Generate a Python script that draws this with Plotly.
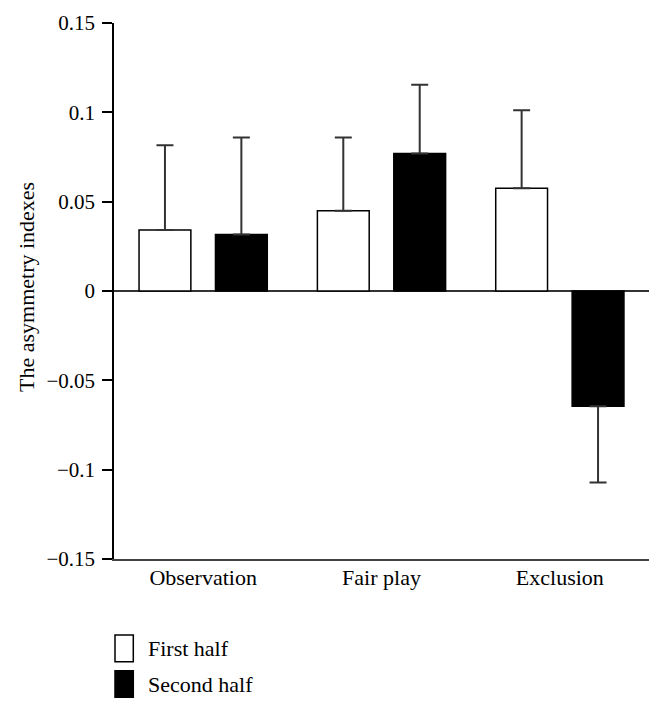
import plotly.graph_objects as go

categories = ["Observation", "Fair play", "Exclusion"]
first_half = [0.0341, 0.0449, 0.0575]
first_half_err = [0.0475, 0.0410, 0.0437]
second_half = [0.0316, 0.0769, -0.0645]
second_half_err = [0.0543, 0.0385, 0.0427]
series_names = ["First half", "Second half"]
y_tickvals = [0.15, 0.1, 0.05, 0, -0.05, -0.1, -0.15]
y_ticktext = ["0.15", "0.1", "0.05", "0", "\u22120.05", "\u22120.1", "\u22120.15"]
y_title = "The asymmetry indexes"

FONT = "Liberation Serif, Times New Roman, serif"
OFF = 8  # browser body margin
W, H = 662 - OFF, 711 - OFF
# plot area in window pixels: x 114.3..648.7, y 23.3..558.7
L, R, T, B = 106, 13, 15, 152
PW, PH = W - L - R, H - T - B


def px_x(px):
    return (px - OFF - L) / PW


def px_y(py):
    return (H - B - (py - OFF)) / PH


def err_parts(vals, errs):
    plus = [e if v >= 0 else 0 for v, e in zip(vals, errs)]
    minus = [0 if v >= 0 else e for v, e in zip(vals, errs)]
    return plus, minus


fig = go.Figure()
colors = ["white", "black"]
for name, vals, errs, col in zip(series_names, [first_half, second_half],
                                 [first_half_err, second_half_err], colors):
    plus, minus = err_parts(vals, errs)
    fig.add_trace(go.Bar(
        x=categories, y=vals, name=name,
        marker=dict(color=col, line=dict(color="black", width=1.5)),
        error_y=dict(type="data", array=plus, arrayminus=minus, symmetric=False,
                     color="#333333", thickness=2, width=8.5),
        showlegend=False,
    ))

fig.update_layout(
    width=W, height=H,
    margin=dict(l=L, r=R, t=T, b=B, autoexpand=False),
    paper_bgcolor="white", plot_bgcolor="white",
    barmode="group", bargap=0.143, bargroupgap=0.322,
    font=dict(family=FONT, size=22, color="black"),
)
fig.update_xaxes(
    range=[-0.5, 2.5], showline=True, linecolor="#444444", linewidth=2,
    ticks="", showgrid=False, zeroline=False,
    tickfont=dict(family=FONT, size=22, color="black"), ticklabelstandoff=-2,
)
fig.update_yaxes(
    range=[-0.15, 0.15], tickvals=y_tickvals, ticktext=y_ticktext,
    showline=True, linecolor="black", linewidth=1.5,
    ticks="outside", ticklen=10, tickwidth=1.5, tickcolor="black",
    showgrid=False, zeroline=True, zerolinecolor="#333333", zerolinewidth=1.5,
    tickfont=dict(family=FONT, size=21, color="black"), ticklabelstandoff=3,
)

# y title
fig.add_annotation(text=y_title, textangle=-90, xref="paper", yref="paper",
                   x=px_x(26), y=px_y(287), showarrow=False,
                   font=dict(family=FONT, size=22, color="black"),
                   xanchor="center", yanchor="middle")

# manual legend
legend_rows = [(635, 661.7, 648), (670.7, 697.3, 684)]
for (y0, y1, yc), name, col in zip(legend_rows, series_names, colors):
    fig.add_shape(type="rect", xref="paper", yref="paper",
                  x0=px_x(115), x1=px_x(133.3), y0=px_y(y1), y1=px_y(y0),
                  fillcolor=col, line=dict(color="black", width=1.5))
    fig.add_annotation(text=name, xref="paper", yref="paper",
                       x=px_x(146), y=px_y(yc), showarrow=False,
                       xanchor="left", yanchor="middle",
                       font=dict(family=FONT, size=22, color="black"))

fig.write_html("out.html")
